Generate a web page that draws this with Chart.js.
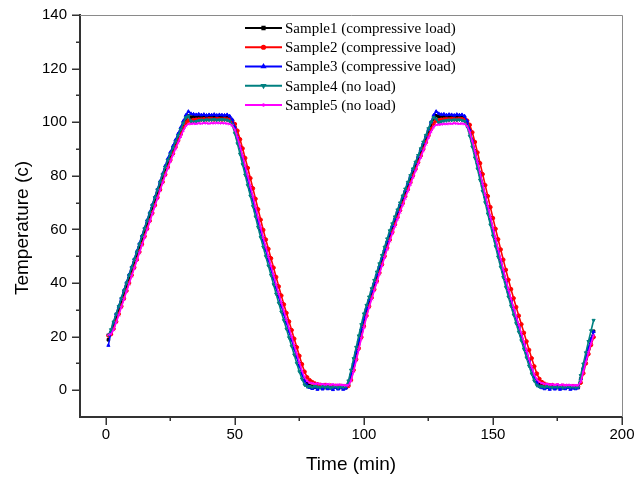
<!DOCTYPE html>
<html>
<head>
<meta charset="utf-8">
<script src="https://cdn.jsdelivr.net/npm/chart.js@4/dist/chart.umd.min.js"></script>
<style>
html,body{margin:0;padding:0;background:#fff;}
canvas{display:block;}
</style>
</head>
<body>
<canvas id="c" width="644" height="478"></canvas>
<script>
// ---- data ----
const minutes = [
1,2,3,4,5,6,7,8,9,10,11,12,13,14,15,16,17,18,19,20,
21,22,23,24,25,26,27,28,29,30,31,32,33,34,35,36,37,38,39,40,
41,42,43,44,45,46,47,48,49,50,51,52,53,54,55,56,57,58,59,60,
61,62,63,64,65,66,67,68,69,70,71,72,73,74,75,76,77,78,79,80,
81,82,83,84,85,86,87,88,89,90,91,92,93,94,95,96,97,98,99,100,
101,102,103,104,105,106,107,108,109,110,111,112,113,114,115,116,117,118,119,120,
121,122,123,124,125,126,127,128,129,130,131,132,133,134,135,136,137,138,139,140,
141,142,143,144,145,146,147,148,149,150,151,152,153,154,155,156,157,158,159,160,
161,162,163,164,165,166,167,168,169,170,171,172,173,174,175,176,177,178,179,180,
181,182,183,184,185,186,187,188,189];

const sample1 = [
18.8,21.3,24.2,27.1,30.0,33.0,36.0,38.9,41.8,44.7,
47.6,50.5,53.4,56.3,59.2,62.1,65.0,67.9,70.8,73.7,
76.6,79.5,82.3,85.0,87.4,89.7,92.0,94.3,96.6,98.9,
101.0,102.3,101.9,102.0,102.1,102.0,102.2,102.1,102.0,102.1,
102.2,102.0,102.1,101.9,102.0,102.1,101.9,101.6,100.6,98.0,
94.5,90.8,87.0,83.2,79.4,75.5,71.6,67.7,63.8,60.0,
56.4,52.9,49.4,45.9,42.4,38.9,35.5,32.2,29.0,25.8,
22.6,19.4,16.2,13.0,9.8,6.8,4.2,2.6,1.8,1.4,
1.2,1.0,1.1,0.9,1.0,1.2,0.9,1.0,1.1,0.8,
1.0,1.1,0.9,2.0,5.5,9.5,13.8,18.0,22.2,26.3,
30.0,33.2,36.3,39.4,42.5,45.6,48.7,51.8,54.9,57.9,
60.7,63.4,66.0,68.6,71.2,73.8,76.4,78.9,81.4,83.9,
86.4,88.9,91.4,93.9,96.4,98.9,101.3,102.4,102.0,102.1,
102.2,102.0,102.1,102.2,102.0,102.1,101.9,102.0,101.6,100.2,
97.0,93.2,89.2,85.1,81.0,76.8,72.6,68.4,64.3,60.2,
56.2,52.3,48.5,44.7,40.9,37.2,33.8,30.5,27.3,24.1,
20.9,17.7,14.5,11.3,8.3,5.6,3.4,2.2,1.6,1.3,
1.1,1.0,1.2,0.9,1.0,1.1,0.9,1.0,1.2,0.9,
1.0,1.1,1.0,4.2,8.0,11.8,15.4,19.0,22.0];

const sample2 = [
20.4,20.9,22.9,25.6,28.4,31.3,34.2,37.1,40.0,42.9,
45.8,48.7,51.6,54.5,57.4,60.3,63.2,66.1,69.0,71.9,
74.8,77.7,80.5,83.2,85.9,88.3,90.7,93.1,95.5,97.8,
99.8,100.6,100.5,100.8,100.9,101.0,101.0,101.1,101.0,101.2,
101.1,101.0,101.2,101.1,101.0,101.1,101.0,100.9,100.5,99.3,
96.8,93.6,90.2,86.6,82.9,79.1,75.3,71.4,67.5,63.6,
59.8,56.2,52.7,49.2,45.7,42.2,38.7,35.3,32.0,28.8,
25.6,22.4,19.2,16.0,12.8,9.7,6.9,4.8,3.7,3.0,
2.5,2.2,2.0,1.8,1.9,1.6,1.7,1.5,1.6,1.4,
1.6,1.5,1.4,1.6,3.8,7.5,11.5,15.6,19.8,23.9,
27.8,31.3,34.5,37.6,40.7,43.8,46.9,50.0,53.1,56.1,
59.0,61.8,64.5,67.1,69.7,72.3,74.9,77.5,80.0,82.5,
85.0,87.5,90.0,92.5,95.0,97.4,99.5,100.6,100.7,100.9,
101.0,101.1,101.0,101.2,101.1,101.0,101.2,101.1,101.0,100.6,
99.0,96.2,92.6,88.7,84.7,80.6,76.5,72.4,68.3,64.2,
60.2,56.3,52.5,48.7,44.9,41.2,37.7,34.3,31.0,27.8,
24.6,21.4,18.2,15.0,11.9,8.9,6.2,4.2,3.0,2.4,
2.0,1.8,1.9,1.6,1.7,1.5,1.6,1.4,1.5,1.3,
1.5,1.4,1.3,2.8,6.3,10.0,13.5,16.9,19.8];

const sample3 = [
16.7,22.0,25.3,28.4,31.3,34.3,37.3,40.2,43.1,46.0,
48.9,51.8,54.7,57.6,60.5,63.4,66.3,69.2,72.1,75.0,
77.9,80.8,83.7,86.4,88.8,91.1,93.4,95.7,98.0,100.4,
102.6,104.0,103.2,103.0,102.8,103.0,102.7,102.9,102.6,102.8,
102.7,102.9,102.6,102.8,102.7,102.6,102.8,102.3,101.0,98.0,
94.2,90.4,86.5,82.6,78.7,74.8,70.9,67.0,63.1,59.3,
55.7,52.2,48.7,45.2,41.7,38.2,34.8,31.5,28.3,25.1,
21.9,18.7,15.5,12.3,9.1,6.0,3.4,1.8,1.0,0.6,
1.2,0.3,0.9,0.4,1.3,0.5,1.0,0.2,1.1,0.4,
1.0,0.3,0.8,2.3,6.0,10.1,14.4,18.6,22.8,26.8,
30.5,33.8,37.0,40.1,43.2,46.3,49.4,52.5,55.6,58.6,
61.4,64.1,66.8,69.4,72.0,74.6,77.2,79.8,82.3,84.8,
87.3,89.8,92.3,94.8,97.3,100.0,102.6,104.0,103.2,102.9,
103.0,102.7,102.9,102.8,102.6,102.9,102.7,102.8,102.3,100.5,
97.0,93.0,88.9,84.8,80.6,76.4,72.2,68.0,63.9,59.8,
55.8,51.9,48.1,44.3,40.5,36.8,33.4,30.1,26.9,23.7,
20.5,17.3,14.1,10.9,7.9,5.0,2.8,1.4,0.9,0.5,
1.1,0.3,1.0,0.4,1.2,0.3,0.9,0.5,1.1,0.3,
0.8,0.5,0.9,4.3,8.2,12.0,15.6,19.0,21.8];

const sample4 = [
20.6,22.6,25.5,28.4,31.3,34.2,37.1,40.0,42.9,45.8,
48.7,51.6,54.5,57.4,60.3,63.2,66.1,69.0,71.9,74.8,
77.7,80.5,83.2,85.8,88.1,90.4,92.7,95.0,97.3,99.6,
101.7,102.2,100.4,100.0,100.3,100.6,100.8,100.7,100.9,100.8,
100.9,101.0,100.8,100.9,101.0,100.9,100.8,100.4,99.0,95.8,
92.0,88.1,84.2,80.3,76.4,72.5,68.6,64.7,60.8,57.0,
53.4,49.9,46.4,42.9,39.4,35.9,32.5,29.2,26.0,22.8,
19.6,16.4,13.2,10.0,6.9,4.2,2.0,1.3,1.4,1.1,
1.5,1.2,1.0,1.4,1.1,1.3,0.9,1.2,1.4,1.0,
1.3,1.1,1.4,3.5,7.5,11.8,16.0,20.3,24.5,28.5,
31.7,34.8,37.9,41.0,44.1,47.2,50.3,53.4,56.5,59.5,
62.1,64.7,67.3,69.9,72.5,75.1,77.6,80.1,82.6,85.1,
87.6,90.1,92.6,95.1,97.6,100.0,101.8,101.2,99.8,100.2,
100.5,100.6,100.8,100.7,100.9,100.8,100.9,100.7,100.3,98.4,
94.8,90.8,86.7,82.6,78.4,74.2,70.0,65.8,61.7,57.6,
53.6,49.7,45.9,42.1,38.4,34.8,31.4,28.1,24.9,21.7,
18.5,15.3,12.1,9.0,6.1,3.5,1.8,1.3,1.4,1.1,
1.5,1.2,1.0,1.3,1.1,1.4,1.0,1.2,1.4,1.1,
1.3,1.0,1.2,5.5,9.8,14.0,18.2,22.2,26.1];

const sample5 = [
20.7,20.9,22.5,25.2,28.0,30.9,33.8,36.7,39.6,42.5,
45.4,48.3,51.2,54.1,57.0,59.9,62.8,65.7,68.6,71.5,
74.4,77.3,80.1,82.8,85.3,87.7,90.0,92.3,94.6,96.8,
98.6,99.3,99.4,99.5,99.4,99.6,99.5,99.7,99.6,99.5,
99.7,99.6,99.8,99.6,99.7,99.6,99.5,99.3,98.8,97.2,
94.4,91.0,87.4,83.7,79.9,76.1,72.3,68.4,64.5,60.6,
56.9,53.4,49.9,46.4,42.9,39.4,36.0,32.7,29.5,26.3,
23.1,19.9,16.7,13.5,10.3,7.3,4.8,3.4,2.8,2.6,
2.4,2.5,2.2,2.3,2.1,2.3,2.0,2.2,1.9,2.1,
2.0,1.9,1.8,1.8,3.5,7.0,11.0,15.1,19.3,23.4,
27.3,30.8,34.0,37.1,40.2,43.3,46.4,49.5,52.6,55.6,
58.4,61.1,63.8,66.4,69.0,71.6,74.2,76.8,79.3,81.8,
84.3,86.8,89.3,91.8,94.2,96.4,98.2,99.0,99.1,99.2,
99.4,99.3,99.5,99.4,99.6,99.5,99.4,99.5,99.3,98.6,
96.4,93.0,89.2,85.2,81.1,77.0,72.9,68.8,64.7,60.6,
56.6,52.7,48.9,45.1,41.3,37.6,34.1,30.8,27.6,24.4,
21.2,18.0,14.8,11.6,8.6,5.9,4.0,3.0,2.6,2.4,
2.3,2.1,2.2,2.0,2.2,1.9,2.1,1.8,2.0,1.9,
1.8,1.9,1.8,3.2,6.8,10.5,14.0,17.4,20.5];

const seriesNames = [
  'Sample1 (compressive load)',
  'Sample2 (compressive load)',
  'Sample3 (compressive load)',
  'Sample4 (no load)',
  'Sample5 (no load)'
];
const xTickValues = [0, 50, 100, 150, 200];
const xMinorTicks = [25, 75, 125, 175];
const yTickValues = [0, 20, 40, 60, 80, 100, 120, 140];
const yMinorTicks = [10, 30, 50, 70, 90, 110, 130];
const xTitle = 'Time (min)';
const yTitle = 'Temperature (c)';

// ---- styling ----
const seriesValues = [sample1, sample2, sample3, sample4, sample5];
const colors = ['#000000', '#ff0000', '#0000ff', '#008080', '#ff00ff'];
const styles = ['rect', 'circle', 'triangle', 'triangle', 'crossRot'];
const rotations = [0, 0, 0, 180, 0];
const SANS = "'Liberation Sans', Arial, sans-serif";
const SERIF = "'Liberation Serif', 'Times New Roman', serif";

const datasets = seriesValues.map((vals, i) => ({
  label: seriesNames[i],
  data: minutes.map((m, k) => ({x: m, y: vals[k]})),
  borderColor: colors[i],
  backgroundColor: colors[i],
  borderWidth: 1.6,
  pointRadius: 1.8,
  pointHoverRadius: 1.8,
  pointStyle: styles[i],
  rotation: rotations[i],
  pointBorderWidth: 1,
  pointBackgroundColor: colors[i],
  pointBorderColor: colors[i],
  tension: 0,
  order: 5 - i
}));

const decor = {
  id: 'decor',
  afterDraw(chart) {
    const {ctx, chartArea: a, scales: {x, y}} = chart;
    ctx.save();
    // top & right frame
    ctx.strokeStyle = '#8a8a8a';
    ctx.lineWidth = 1;
    ctx.beginPath();
    ctx.moveTo(a.left, a.top + 0.5);
    ctx.lineTo(a.right + 0.5, a.top + 0.5);
    ctx.lineTo(a.right + 0.5, a.bottom);
    ctx.stroke();
    // tick marks
    ctx.strokeStyle = '#333';
    ctx.lineWidth = 1.5;
    ctx.beginPath();
    yTickValues.forEach(v => { const p = Math.round(y.getPixelForValue(v)) + 0.25; ctx.moveTo(a.left - 8, p); ctx.lineTo(a.left, p); });
    yMinorTicks.forEach(v => { const p = Math.round(y.getPixelForValue(v)) + 0.25; ctx.moveTo(a.left - 4, p); ctx.lineTo(a.left, p); });
    xTickValues.forEach(v => { const p = Math.round(x.getPixelForValue(v)) + 0.25; ctx.moveTo(p, a.bottom); ctx.lineTo(p, a.bottom + 8); });
    xMinorTicks.forEach(v => { const p = Math.round(x.getPixelForValue(v)) + 0.25; ctx.moveTo(p, a.bottom); ctx.lineTo(p, a.bottom + 4); });
    ctx.stroke();
    // y title
    ctx.fillStyle = '#000';
    ctx.font = '19px ' + SANS;
    ctx.textAlign = 'center';
    ctx.textBaseline = 'middle';
    ctx.translate(23, 228);
    ctx.rotate(-Math.PI / 2);
    ctx.fillText(yTitle, 0, 0);
    ctx.restore();

    // legend
    ctx.save();
    const x0 = 245, x1 = 282, tx = 285, y0 = 28, dy = 19.25;
    chart.data.datasets.forEach((ds, i) => {
      const yy = y0 + i * dy;
      ctx.strokeStyle = ds.borderColor;
      ctx.lineWidth = 2;
      ctx.beginPath();
      ctx.moveTo(x0, yy);
      ctx.lineTo(x1, yy);
      ctx.stroke();
      ctx.fillStyle = ds.borderColor;
      Chart.helpers.drawPoint(ctx, {pointStyle: ds.pointStyle, radius: 1.6, rotation: ds.rotation, borderWidth: 1}, (x0 + x1) / 2, yy);
      ctx.fillStyle = '#000';
      ctx.font = '15px ' + SERIF;
      ctx.textAlign = 'left';
      ctx.textBaseline = 'middle';
      ctx.fillText(ds.label, tx, yy + 1);
    });
    ctx.restore();
  }
};

new Chart(document.getElementById('c'), {
  type: 'line',
  data: {datasets},
  options: {
    responsive: false,
    animation: false,
    devicePixelRatio: 1,
    layout: {padding: {top: 15, right: 22, left: 0, bottom: 0}},
    plugins: {legend: {display: false}, tooltip: {enabled: false}, title: {display: false}},
    scales: {
      x: {
        type: 'linear',
        min: -10, max: 200,
        afterBuildTicks: s => { s.ticks = xTickValues.map(v => ({value: v})); },
        afterFit: s => { s.height = 61; },
        ticks: {color: '#000', font: {family: SANS, size: 15, lineHeight: 1}, padding: 2, maxRotation: 0, autoSkip: false},
        grid: {display: true, drawOnChartArea: false, drawTicks: true, tickLength: 8, tickColor: 'rgba(0,0,0,0)'},
        border: {display: true, color: '#333', width: 2},
        title: {display: true, text: xTitle, color: '#000', font: {family: SANS, size: 19, lineHeight: 1}, padding: {top: 0, bottom: 4}}
      },
      y: {
        type: 'linear',
        min: -10, max: 140,
        afterBuildTicks: s => { s.ticks = yTickValues.map(v => ({value: v})); },
        afterFit: s => { s.width = 80; },
        ticks: {color: '#000', font: {family: SANS, size: 15, lineHeight: 1}, padding: 5, autoSkip: false},
        grid: {display: true, drawOnChartArea: false, drawTicks: true, tickLength: 8, tickColor: 'rgba(0,0,0,0)'},
        border: {display: true, color: '#333', width: 2},
        title: {display: false}
      }
    }
  },
  plugins: [decor]
});
</script>
</body>
</html>
